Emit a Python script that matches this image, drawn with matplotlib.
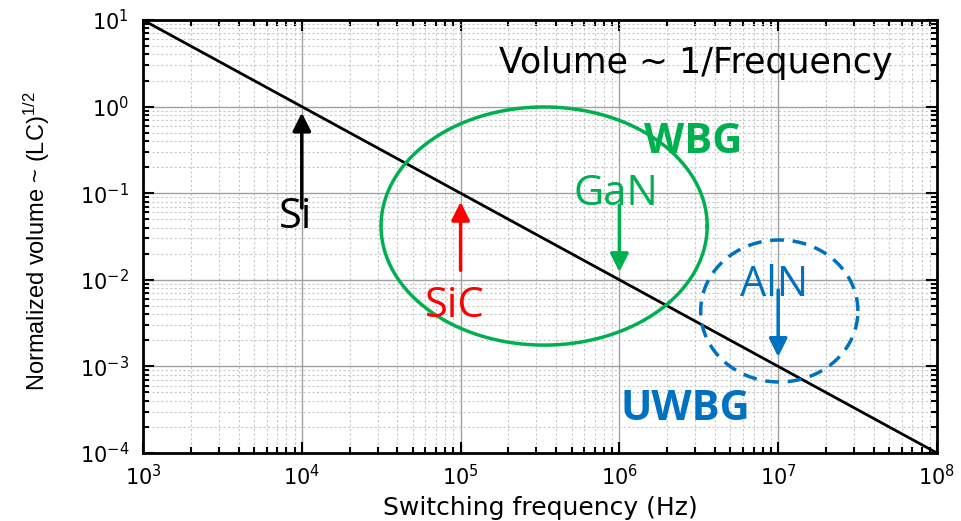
import numpy as np
import matplotlib
matplotlib.use("Agg")
import matplotlib.pyplot as plt
from matplotlib.ticker import LogLocator, NullFormatter

plt.rcParams['font.family'] = ['DejaVu Sans']
plt.rcParams['mathtext.default'] = 'regular'
plt.rcParams['axes.unicode_minus'] = False

# reference line: volume ~ 1/frequency
freq = [1e3, 1e8]
volume = [1e1, 1e-4]

# arrows: (x, y tail, y head)
si_arrow = (1e4, 10**-1.17, 10**-0.07)
sic_arrow = (1e5, 10**-1.89, 10**-1.10)
gan_arrow = (1e6, 10**-1.14, 10**-1.91)
aln_arrow = (1e7, 10**-2.12, 10**-2.89)

# ellipses in log space: (centre log x, centre log y, half width, half height)
wbg_ellipse = (5.526, -1.379, 1.027, 1.375)
uwbg_circle = (7.007, -2.36, 0.495, 0.82)

green = '#00B050'
blue = '#0070C0'
label_font = ['Open Sans', 'DejaVu Sans']

fig = plt.figure(figsize=(9.61, 5.21), dpi=100)
ax = fig.add_axes([0.1488, 0.1305, 0.8262, 0.8311])

ax.set_xscale('log')
ax.set_yscale('log')
ax.set_xlim(1e3, 1e8)
ax.set_ylim(1e-4, 1e1)

ax.xaxis.set_minor_locator(LogLocator(base=10, subs=np.arange(2, 10), numticks=20))
ax.yaxis.set_minor_locator(LogLocator(base=10, subs=np.arange(2, 10), numticks=20))
ax.xaxis.set_minor_formatter(NullFormatter())
ax.yaxis.set_minor_formatter(NullFormatter())

ax.grid(which='major', color='#a0a0a0', lw=1.0, ls='-')
ax.grid(which='minor', color='#c8c8c8', lw=0.8, ls=(0, (2, 2)))
ax.set_axisbelow(True)

ax.tick_params(which='both', direction='in', top=True, right=True, width=1.5, labelsize=15)
ax.tick_params(which='major', length=8)
ax.tick_params(which='minor', length=4)
ax.tick_params(axis='x', pad=8)
ax.tick_params(axis='y', pad=10)
for s in ax.spines.values():
    s.set_linewidth(2)

ax.plot(freq, volume, color='black', lw=2)

# ellipses
t = np.linspace(0, 2 * np.pi, 400)
cx, cy, a, b = wbg_ellipse
ax.plot(10**(cx + a * np.cos(t)), 10**(cy + b * np.sin(t)), color=green, lw=2.5)
cx, cy, a, b = uwbg_circle
ax.plot(10**(cx + a * np.cos(t)), 10**(cy + b * np.sin(t)), color=blue, lw=2.5,
        ls=(0, (4, 2.5)))

def arrow(spec, color):
    x, y0, y1 = spec
    ax.annotate('', xy=(x, y1), xytext=(x, y0),
                arrowprops=dict(arrowstyle='-|>,head_length=0.5,head_width=0.25',
                                color=color, lw=2.5,
                                mutation_scale=22, shrinkA=0, shrinkB=0))

arrow(si_arrow, 'black')
arrow(sic_arrow, 'red')
arrow(gan_arrow, green)
arrow(aln_arrow, blue)

ax.text(10**6.482, 10**0.388, 'Volume ~ 1/Frequency', fontsize=25, ha='center', va='baseline')
ax.text(10**3.963, 10**-1.402, 'Si', fontsize=30, ha='center', va='baseline', family=label_font)
ax.text(10**4.965, 10**-2.43, 'SiC', fontsize=30, color='red', ha='center', va='baseline', family=label_font)
ax.text(10**5.979, 10**-1.136, 'GaN', fontsize=30, color=green, ha='center', va='baseline', family=label_font)
ax.text(10**6.974, 10**-2.187, 'AlN', fontsize=30, color=blue, ha='center', va='baseline', family=label_font)
ax.text(10**6.463, 10**-0.536, 'WBG', fontsize=30, color=green, weight='bold', ha='center', va='baseline', family=label_font)
ax.text(10**6.413, 10**-3.619, 'UWBG', fontsize=30, color=blue, weight='bold', ha='center', va='baseline', family=label_font)

ax.set_xlabel('Switching frequency (Hz)', fontsize=18, labelpad=5)
ax.set_ylabel('Normalized volume ~ (LC)$^{1/2}$', fontsize=17,
              family=['Liberation Sans Narrow', 'Liberation Sans', 'DejaVu Sans'])
ax.yaxis.set_label_coords(-0.115, 0.49)

fig.savefig('out.png', dpi=100)
